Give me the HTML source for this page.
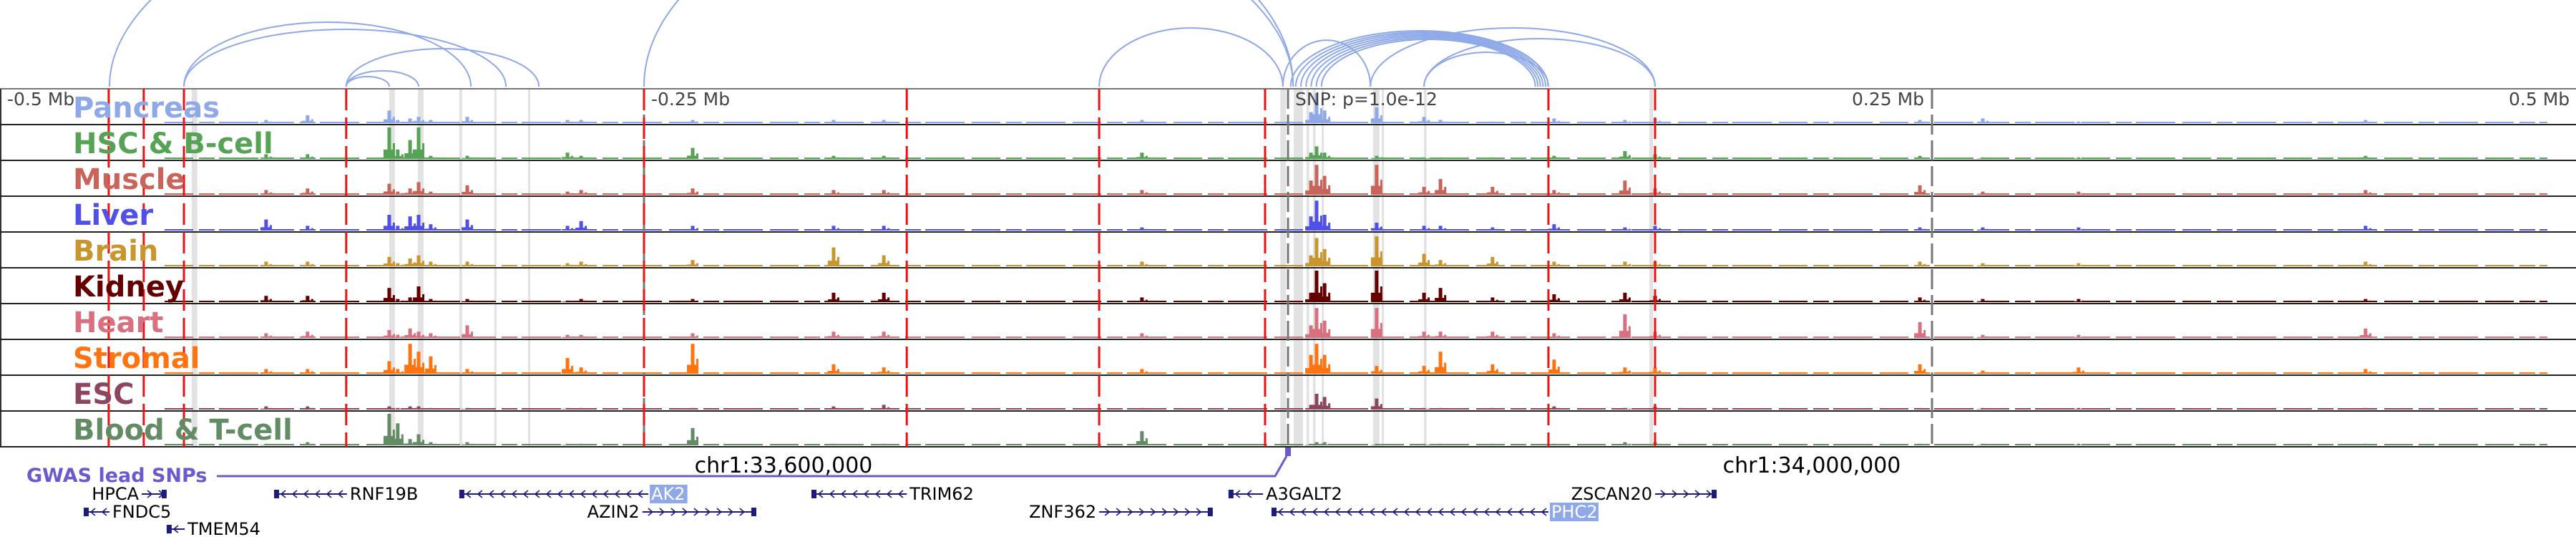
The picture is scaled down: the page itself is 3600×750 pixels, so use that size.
<!DOCTYPE html>
<html><head><meta charset="utf-8">
<style>
html,body{margin:0;padding:0;background:#fff;}
svg{display:block;font-family:"DejaVu Sans","Liberation Sans",sans-serif;}
</style></head>
<body>
<svg id="chart" width="3600" height="750" viewBox="0 0 3600 750" xmlns="http://www.w3.org/2000/svg">
  <g id="arcs"></g>
  <g id="highlights"></g>
  <g id="tracks"></g>
  <g id="vlines"></g>
  <g id="labels"></g>
  <g id="ticks"></g>
  <g id="genes"></g>
</svg>
<script>
// ---- data ----
const trackNames = ["Pancreas","HSC & B-cell","Muscle","Liver","Brain","Kidney","Heart","Stromal","ESC","Blood & T-cell"];
const trackColors = ["#8ea8e8","#56a356","#c8645a","#5050e8","#c8962d","#640000","#d9707f","#ff7410","#8c465f","#648c64"];
const peakKb = [-396.7,-380.6,-348.9,-345.6,-340.8,-337.5,-332.8,-318.6,-279.7,-274.4,-231.1,-176.4,-156.9,-56.7,8.9,11.1,14.2,34.4,52.8,59.2,79.4,103.3,130.8,142.5,245.3,269.7,306.9,418.3];
const pancreasVals = [.1,.25,.4,.1,.15,.2,.1,.2,.1,.1,.1,.1,.1,.1,.35,.95,.4,.5,.2,.1,.05,.15,.1,.15,.1,.15,.05,.1];
const hscVals = [.15,.15,1,.3,.6,1,.1,.1,.2,.1,.35,.1,.1,.2,.2,.4,.2,.1,.05,.05,.05,.1,.25,.15,.1,.05,.05,.1];
const muscleVals = [.15,.2,.35,.1,.2,.4,.1,.3,.1,.15,.2,.15,.15,.15,.45,.95,.6,.95,.25,.5,.25,.15,.45,.2,.3,.1,.1,.15];
const liverVals = [.35,.15,.5,.15,.45,.5,.2,.35,.15,.3,.15,.15,.15,.1,.45,.95,.5,.25,.15,.15,.1,.2,.1,.15,.1,.1,.1,.15];
const brainVals = [.15,.15,.3,.1,.25,.35,.15,.15,.1,.15,.2,.6,.35,.15,.35,.9,.55,.95,.4,.2,.3,.15,.15,.15,.15,.1,.1,.15];
const kidneyVals = [.2,.2,.45,.1,.15,.5,.1,.1,.05,.1,.1,.3,.3,.15,.3,1,.6,1,.3,.45,.15,.25,.3,.2,.15,.1,.1,.1];
const heartVals = [.15,.2,.25,.1,.3,.2,.15,.4,.1,.1,.15,.2,.2,.15,.4,.95,.55,.95,.2,.2,.2,.15,.75,.2,.5,.1,.1,.3];
const stromalVals = [.15,.15,.4,.15,.95,.7,.55,.15,.5,.2,.95,.3,.2,.15,.6,.95,.6,.25,.25,.7,.3,.45,.2,.2,.3,.1,.2,.15];
const escVals = [.1,.1,.1,.05,.1,.1,.05,.05,.05,.05,.05,.1,.15,.05,.15,.5,.4,.35,.05,.05,.05,.1,.05,.1,.05,.05,.05,.05];
const bloodVals = [.05,.1,1,.7,.2,.35,.1,.1,.05,.05,.55,.05,.05,.45,.05,.1,.1,.05,.05,.05,.05,.05,.1,.1,.05,.05,.05,.05];
const trackVals = [pancreasVals,hscVals,muscleVals,liverVals,brainVals,kidneyVals,heartVals,stromalVals,escVals,bloodVals];
const redLinesKb = [-457.8,-444.2,-428.6,-365.6,-250,-148,-73.3,-8.9,101.1,142.5];
const bandStartKb = [-425.6,-348.9,-337.8,-321.7,-308.1,-295,-3,2.2,7.2,9.7,13.1,33,36.4,52.8,140.3];
const bandWidthKb = [2.2,2.2,2.2,1.1,0.8,0.8,2.2,3.6,1,1,0.8,2.5,0.8,1,1.4];
const arcStartKb = [-457.5,-250,-428.6,-428.6,-365.6,-365.6,-365.6,-73.3,-2,1,3,5,7,9,11,13,32,52.8,52.8];
const arcEndKb = [2,2,-317.2,-303.6,-290.8,-337.5,-348.9,-2,32,101,101,100,99,98,97,96,142.5,142.5,101.1];
const arcHeights = [330,270,90,80,53,22,14,82,65,78,76,74,72,70,68,66,82,67,48];
const tickKb = [-500,-250,0,250,500];
const tickLabels = ["-0.5 Mb","-0.25 Mb","SNP: p=1.0e-12","0.25 Mb","0.5 Mb"];
const geneNames = ["HPCA","FNDC5","TMEM54","RNF19B","AK2","AZIN2","TRIM62","ZNF362","A3GALT2","PHC2","ZSCAN20"];
const geneStartKb = [-445,-467.5,-435.3,-393.6,-321.7,-250.6,-185,-73.3,-23.1,-6.4,142.5];
const geneEndKb = [-435.3,-457.5,-428.3,-365.3,-248.3,-206.4,-148,-29.2,-9.7,101.1,166.4];
const geneRow = [0,1,2,0,0,1,0,1,0,1,0];
const geneStrand = [1,-1,-1,-1,-1,1,-1,1,-1,-1,1];
const geneLabelSide = ["L","R","R","R","R","L","R","L","R","R","L"];
const geneHighlighted = [0,0,0,0,1,0,0,0,0,1,0];

// ---- scales ----
const PX_PER_KB = 3.6, X0 = 1800;
const x = kb => X0 + kb*PX_PER_KB;
const TOP = 124, ROW = 50;
const NS = "http://www.w3.org/2000/svg";
function mk(tag, attrs, parent){const e=document.createElementNS(NS,tag);for(const k in attrs)e.setAttribute(k,attrs[k]);parent.appendChild(e);return e;}

// arcs
const gA = document.getElementById('arcs');
arcStartKb.forEach((s,i)=>{
  const x1=x(s), x2=x(arcEndKb[i]), rx=(x2-x1)/2, ry=arcHeights[i];
  const p = mk('path',{d:`M${x1},${TOP-3} A${rx},${ry} 0 0 1 ${x2},${TOP-3}`,fill:'none',stroke:'#8ea8e8','stroke-width':2},gA);
  
  
});

// highlight bands
const gH = document.getElementById('highlights');
bandStartKb.forEach((s,i)=>{
  const r = mk('rect',{x:x(s),y:TOP,width:Math.max(3,bandWidthKb[i]*PX_PER_KB),height:ROW*10,fill:'#e2e2e2'},gH);
  
  
});

// tracks
const gT = document.getElementById('tracks');
mk('line',{x1:0,y1:TOP,x2:3600,y2:TOP,stroke:'#777','stroke-width':2},gT);
mk('line',{x1:1,y1:TOP,x2:1,y2:TOP+ROW*10,stroke:'#333','stroke-width':2},gT);
trackNames.forEach((nm,t)=>{
  const base = TOP + (t+1)*ROW - 2, col = trackColors[t];
  const g = mk('g',{},gT);
  
  
  mk('line',{x1:230,y1:base-1,x2:3560,y2:base-1,stroke:col,'stroke-width':2,'stroke-dasharray':'40 8 22 6 55 10'},g);
  trackVals[t].forEach((v,i)=>{
    const cx = x(peakKb[i]), h = v*(ROW-6);
    const b = mk('rect',{x:cx-2.5,y:base-h,width:5,height:h,fill:col},g);
    
    
    mk('rect',{x:cx-8,y:base-h*0.3,width:16,height:h*0.3,fill:col},g);
    mk('rect',{x:cx+5,y:base-h*0.5,width:3,height:h*0.5,fill:col},g);
  });
  mk('line',{x1:0,y1:TOP+(t+1)*ROW,x2:3600,y2:TOP+(t+1)*ROW,stroke:'#222','stroke-width':2},g);
});

// vertical lines
const gV = document.getElementById('vlines');
[-250,0,250].forEach(k=>{
  const l = mk('line',{x1:x(k),y1:TOP,x2:x(k),y2:TOP+ROW*10,stroke:'#777','stroke-width':3,'stroke-dasharray':'28 8'},gV);
  
  
});
redLinesKb.forEach(k=>{
  const l = mk('line',{x1:x(k),y1:TOP,x2:x(k),y2:TOP+ROW*10,stroke:'#ee1111','stroke-width':3,'stroke-dasharray':'30 10'},gV);
  
  
});

// labels
const gL = document.getElementById('labels');
trackNames.forEach((nm,t)=>{
  const tx = mk('text',{x:102,y:TOP+t*ROW+40,fill:trackColors[t],'font-size':40,'font-weight':'bold'},gL);
  tx.textContent = nm;
  
  
});

// ticks
const gK = document.getElementById('ticks');
tickKb.forEach((k,i)=>{
  let px = x(k)+10; if(k===-500) px=10; if(k===500) px=3506; if(k===250) px=2588; if(k===0) px=1810;
  const t = mk('text',{x:px,y:TOP+23,fill:'#444','font-size':25},gK);
  t.textContent = tickLabels[i];
  
  
});
[["chr1:33,600,000",1095],["chr1:34,000,000",2532]].forEach(([s,px])=>{
  const t = mk('text',{x:px,y:660,fill:'#000','font-size':30,'text-anchor':'middle'},gK);
  t.textContent = s;
  
  
});

// GWAS + genes
const gG = document.getElementById('genes');
const gw = mk('text',{x:37,y:673,fill:'#6a5acd','font-size':27,'font-weight':'bold'},gG);
gw.textContent='GWAS lead SNPs';


mk('polyline',{points:`303,665 1782,665 1798,637`,fill:'none',stroke:'#6a5acd','stroke-width':3},gG);
const snp = mk('rect',{x:1796,y:625,width:8,height:12,fill:'#6a5acd'},gG);


const rowY=[690,715,739];
geneNames.forEach((nm,i)=>{
  const x1=x(geneStartKb[i]), x2=x(geneEndKb[i]), y=rowY[geneRow[i]];
  const g = mk('g',{},gG);
  
  
  mk('line',{x1:x1,y1:y,x2:x2,y2:y,stroke:'#1c1c7a','stroke-width':2},g);
  for(let a=x1+12;a<x2-6;a+=16){
    const d = geneStrand[i]>0 ? `M${a-4},${y-5} L${a+2},${y} L${a-4},${y+5}` : `M${a+4},${y-5} L${a-2},${y} L${a+4},${y+5}`;
    mk('path',{d:d,fill:'none',stroke:'#1c1c7a','stroke-width':1.6},g);
  }
  const bx = geneStrand[i]>0 ? x2-7 : x1;
  mk('rect',{x:bx,y:y-6,width:7,height:12,fill:'#1c1c7a'},g);
  const fs=24, right = geneLabelSide[i]==='R';
  const lx = right ? x2+4 : x1-4;
  if(geneHighlighted[i]){
    const w = nm.length*15.5+6;
    mk('rect',{x:lx-2,y:y-13,width:w,height:26,fill:'#8ea8e8'},g);
  }
  const t = mk('text',{x:lx,y:y+8,'font-size':fs,fill:geneHighlighted[i]?'#fff':'#000','text-anchor':right?'start':'end'},g);
  t.textContent = nm;
});
</script>
</body></html>
